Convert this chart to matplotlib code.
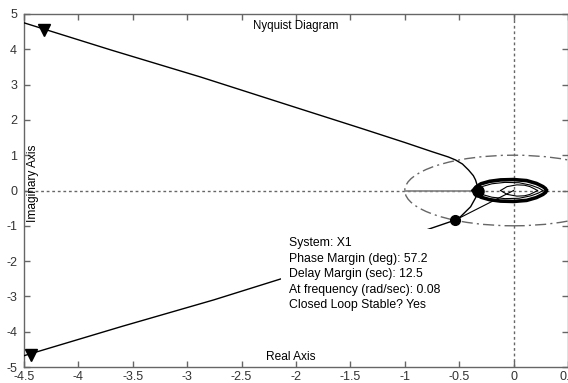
import matplotlib
matplotlib.use('Agg')
import matplotlib.pyplot as plt
from matplotlib.patches import Circle
from matplotlib.ticker import FuncFormatter

plt.rcParams['font.family'] = ['Liberation Sans', 'DejaVu Sans']
plt.rcParams['axes.unicode_minus'] = False

# Nyquist curve, upper branch (positive frequencies)
upper_re = [-4.5, -3.7, -2.877, -2.0, -1.4, -1.0, -0.75, -0.6, -0.533, -0.47, -0.414, -0.37, -0.35, -0.335, -0.33]
upper_im = [4.75, 3.98, 3.215, 2.35, 1.76, 1.36, 1.10, 0.95, 0.864, 0.75, 0.58, 0.42, 0.30, 0.15, 0.0]

# lower branch
lower_re = [-0.33, -0.335, -0.35, -0.395, -0.487, -0.535, -0.9, -1.4, -2.114, -2.757, -3.6, -4.5]
lower_im = [0.0, -0.10, -0.21, -0.46, -0.74, -0.836, -1.22, -1.73, -2.48, -3.10, -3.85, -4.68]

# high-frequency loops near the origin (upper halves, mirrored)
loop1_re = [-0.37, -0.345, -0.30, -0.22, -0.12, 0.0, 0.12, 0.21, 0.27, 0.295, 0.30]
loop1_im = [0.0, 0.10, 0.19, 0.26, 0.30, 0.31, 0.28, 0.20, 0.11, 0.05, 0.0]
loop2_re = [-0.33, -0.28, -0.20, -0.08, 0.05, 0.16, 0.23, 0.27]
loop2_im = [0.0, 0.12, 0.19, 0.23, 0.22, 0.15, 0.07, 0.0]
loop3_re = [-0.12, -0.06, 0.03, 0.10, 0.15, 0.19, 0.22]
loop3_im = [0.0, 0.11, 0.16, 0.15, 0.11, 0.05, 0.0]

# markers
arrow_re = [-4.32, -4.44]
arrow_im = [4.56, -4.66]
cross_re, cross_im = -0.33, 0.0
pm_re, pm_im = -0.535, -0.836

xticks = [-4.5, -4, -3.5, -3, -2.5, -2, -1.5, -1, -0.5, 0, 0.5]
yticks = [-5, -4, -3, -2, -1, 0, 1, 2, 3, 4, 5]

tip_text = ("System: X1\nPhase Margin (deg): 57.2\nDelay Margin (sec): 12.5\n"
            "At frequency (rad/sec): 0.08\nClosed Loop Stable? Yes")

fig = plt.figure(figsize=(5.68, 3.83), dpi=100)
ax = fig.add_axes([24 / 568, 16 / 383, 544 / 568, 353 / 383])
ax.set_xlim(-4.5, 0.5)
ax.set_ylim(-5, 5)

grey = '#666666'
# axis reference lines
ax.axhline(0, color=grey, lw=1, ls=(0, (2, 2)), zorder=1)
ax.axvline(0, color=grey, lw=1, ls=(0, (2, 2)), zorder=1)
# unit circle
ax.add_patch(Circle((0, 0), 1, fill=False, ec=grey, lw=1, ls=(0, (8, 3, 1.5, 3)), zorder=1))
# gain margin segment
ax.plot([-1, cross_re], [0, 0], color='#808080', lw=1.2, zorder=2)

ax.plot(upper_re, upper_im, color='black', lw=1, zorder=3)
ax.plot(lower_re, lower_im, color='black', lw=1, zorder=3)

ax.plot(loop1_re, loop1_im, color='black', lw=2.6, zorder=3)
ax.plot(loop1_re, [-v for v in loop1_im], color='black', lw=2.6, zorder=3)
for lre, lim in [(loop2_re, loop2_im), (loop3_re, loop3_im)]:
    ax.plot(lre, lim, color='black', lw=0.8, zorder=3)
    ax.plot(lre, [-v for v in lim], color='black', lw=0.8, zorder=3)

# phase margin line to origin
ax.plot([pm_re, 0], [pm_im, 0], color='black', lw=0.8, zorder=3)
ax.plot([cross_re], [cross_im], 'o', color='black', ms=8, zorder=4)
ax.plot([pm_re], [pm_im], 'o', color='black', ms=7, zorder=4)
ax.plot(arrow_re, arrow_im, 'v', color='black', ms=9, zorder=4)

ax.text(-2.06, -1.33, tip_text, fontsize=8.8, va='top', ha='left', linespacing=1.38,
        bbox=dict(boxstyle='square,pad=0.7', fc='white', ec='none'), zorder=5)

ax.text(0.5, 0.966, 'Nyquist Diagram', transform=ax.transAxes, ha='center', va='center', fontsize=8.3)
ax.text(0.49, 0.028, 'Real Axis', transform=ax.transAxes, ha='center', va='center', fontsize=8.6)
ax.text(0.017, 0.52, 'Imaginary Axis', transform=ax.transAxes, ha='center', va='center',
        rotation=90, fontsize=8.6)

ax.set_xticks(xticks)
ax.set_yticks(yticks)
fmt = FuncFormatter(lambda v, p: '%g' % v)
ax.xaxis.set_major_formatter(fmt)
ax.yaxis.set_major_formatter(fmt)
ax.tick_params(direction='in', length=4, width=1, color=grey, labelsize=9,
               labelcolor='#333333', top=True, right=True, pad=3)
ax.tick_params(axis='y', pad=5)
for s in ax.spines.values():
    s.set_color(grey)
    s.set_linewidth(1)

fig.savefig('out.png', dpi=100)
